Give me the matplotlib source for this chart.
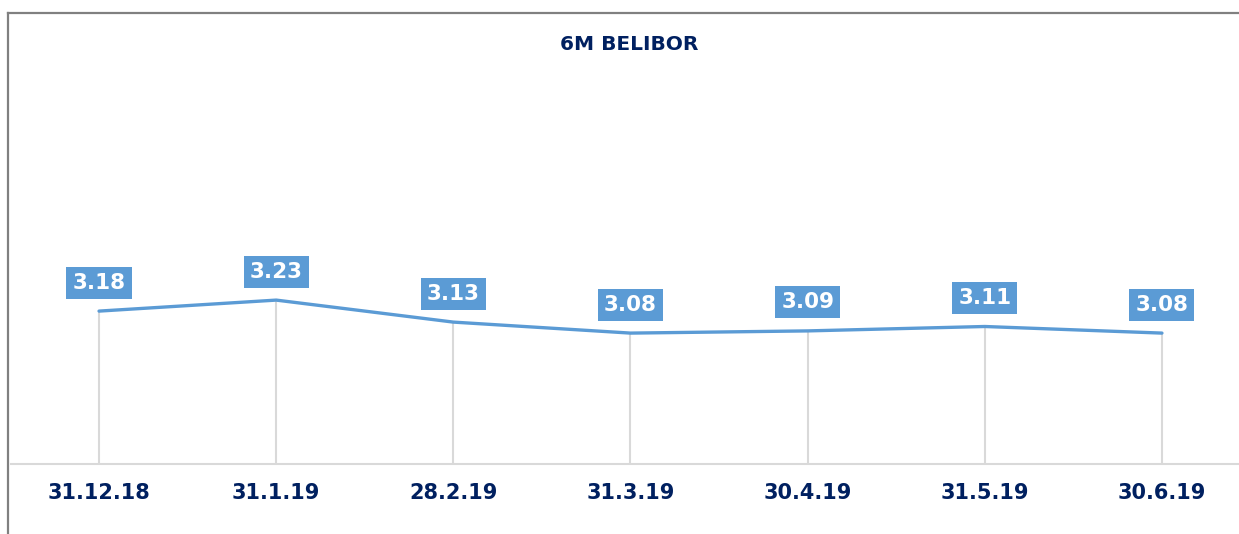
import matplotlib
matplotlib.use("Agg")
import matplotlib.pyplot as plt
from matplotlib.lines import Line2D

# data
dates = ["31.12.18", "31.1.19", "28.2.19", "31.3.19", "30.4.19", "31.5.19", "30.6.19"]
belibor_6m = [3.18, 3.23, 3.13, 3.08, 3.09, 3.11, 3.08]

navy = "#002060"
blue = "#5B9BD5"

fig = plt.figure(figsize=(12.39, 5.34), dpi=100)
ax = fig.add_axes([11 / 1239, (534 - 464) / 534, 1 - 11 / 1239, 404 / 534])

x = list(range(len(dates)))

# drop lines from each point down to the axis
ax.vlines(x, 2.485, belibor_6m, color="#D9D9D9", lw=1.5, zorder=1)
ax.plot(x, belibor_6m, color=blue, lw=2.4, solid_capstyle="round", zorder=3)

for xi, v in zip(x, belibor_6m):
    ax.annotate("%.2f" % v, (xi, v), xytext=(0, 20.5), textcoords="offset points",
                ha="center", va="center", color="white", fontsize=15.5, fontweight="bold",
                bbox=dict(boxstyle="square,pad=0.28", fc=blue, ec="none"), zorder=4)

ax.set_xlim(-0.497, 6.435)
ax.set_ylim(2.485, 2.485 + 404 / 220)
ax.set_xticks(x)
ax.set_xticklabels(dates, fontsize=15, fontweight="bold", color=navy)
ax.tick_params(axis="x", length=0, pad=14)
ax.set_yticks([])
for s in ["top", "right", "left"]:
    ax.spines[s].set_visible(False)
ax.spines["bottom"].set_color("#D9D9D9")
ax.spines["bottom"].set_linewidth(1.5)

fig.text(629 / 1239, 1 - 45 / 534, "6M BELIBOR", ha="center", va="center",
         fontsize=14.5, fontweight="bold", color=navy)

# outer frame (left and top edges visible)
fig.add_artist(Line2D([8 / 1239, 8 / 1239], [0, 1 - 12.5 / 534], transform=fig.transFigure,
                      color="#808080", lw=1.6))
fig.add_artist(Line2D([8 / 1239, 1], [1 - 12.5 / 534, 1 - 12.5 / 534], transform=fig.transFigure,
                      color="#808080", lw=1.6))

fig.savefig("out.png", dpi=100)
